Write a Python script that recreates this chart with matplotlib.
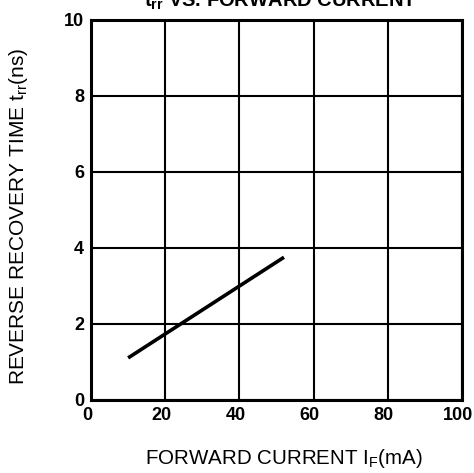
import matplotlib
matplotlib.use("Agg")
import matplotlib.pyplot as plt
from matplotlib.transforms import ScaledTranslation

plt.rcParams['font.family'] = ['Liberation Sans', 'DejaVu Sans']

# data
current = [10, 52]          # forward current IF (mA)
trr = [1.1, 3.75]           # reverse recovery time (ns)

xticks = [0, 20, 40, 60, 80, 100]
yticks = [0, 2, 4, 6, 8, 10]

fig = plt.figure(figsize=(4.74, 4.73), dpi=100)
ax = fig.add_axes([0.192, 0.155, 0.783, 0.803])

ax.plot(current, trr, color='black', lw=2.6, solid_capstyle='butt')

ax.set_xlim(0, 100)
ax.set_ylim(0, 10)
ax.set_xticks(xticks)
ax.set_yticks(yticks)
ax.grid(True, color='black', lw=1.5)
for s in ax.spines.values():
    s.set_linewidth(2.2)
ax.tick_params(length=0, labelsize=13, pad=5)
shift = ScaledTranslation(-4 / 100, 0, fig.dpi_scale_trans)
for lab in ax.get_xticklabels():
    lab.set_fontweight('bold')
    lab.set_transform(lab.get_transform() + shift)
for lab in ax.get_yticklabels():
    lab.set_fontweight('bold')

ax.set_xlabel(r'FORWARD CURRENT $\mathregular{I_F}$(mA)', fontsize=14.8)
ax.set_ylabel(r'REVERSE RECOVERY TIME $\mathregular{t_{rr}}$(ns)', fontsize=15)
ax.xaxis.set_label_coords(0.52, -0.124)
ax.yaxis.set_label_coords(-0.164, 0.482)

# title is cut off by the top edge of the scan
fig.text(417 / 474, 1 - 7 / 473, r'$\mathregular{t_{rr}}$ VS. FORWARD CURRENT',
         ha='right', va='baseline', fontsize=14.5, fontweight='bold')

fig.savefig('out.png', dpi=100)
